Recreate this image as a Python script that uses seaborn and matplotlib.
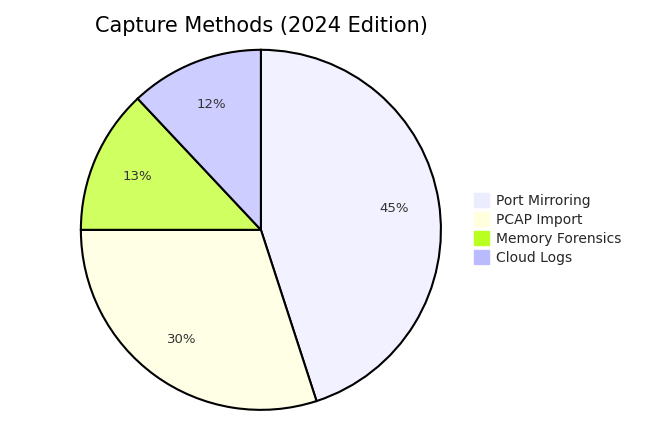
import matplotlib
matplotlib.use("Agg")
import matplotlib.pyplot as plt
import seaborn as sns
from matplotlib.patches import Patch

sns.set_theme(style="white")

# data
methods = ["Port Mirroring", "PCAP Import", "Memory Forensics", "Cloud Logs"]
shares = [45, 30, 13, 12]
slice_colors = ["#f1f1ff", "#ffffe6", "#cfff60", "#cdcdff"]
legend_colors = ["#ececff", "#ffffde", "#b9ff20", "#babaff"]

fig = plt.figure(figsize=(6.45, 4.28), dpi=100)
ax = fig.add_axes([0.124, 0.04, 0.561, 0.846])
ax.pie(shares, colors=slice_colors, startangle=90, counterclock=False,
       autopct="%1.0f%%", pctdistance=0.75,
       wedgeprops=dict(edgecolor="black", linewidth=1.5),
       textprops=dict(fontsize=9.5, color="#333333"))
ax.set_xlim(-1.005, 1.005)
ax.set_ylim(-1.005, 1.005)
ax.set_aspect("equal")

fig.text(0.405, 0.94, "Capture Methods (2024 Edition)", ha="center", va="center",
         fontsize=15, color="black")

handles = [Patch(facecolor=c, edgecolor=c) for c in legend_colors]
fig.legend(handles, methods, loc="center left", bbox_to_anchor=(0.715, 0.465),
           frameon=False, fontsize=10, handlelength=1.1, handleheight=1.2,
           handletextpad=0.5, labelspacing=0.3)

fig.savefig("out.png", dpi=100)
